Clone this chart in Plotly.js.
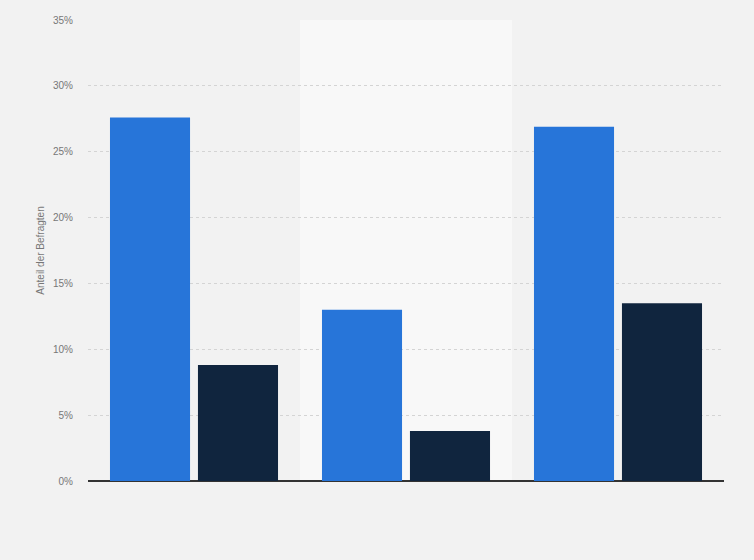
<!DOCTYPE html>
<html>
<head>
<meta charset="utf-8">
<script src="https://cdn.plot.ly/plotly-3.0.1.min.js"></script>
<style>
  html, body { margin: 0; padding: 0; background: #f2f2f2; }
  #chart { width: 754px; height: 560px; }
</style>
</head>
<body>
<div id="chart"></div>
<script>
// three groups, no category labels shown in the picture
var categories = ["A", "B", "C"];
var seriesBlue = [27.6, 13.0, 26.9];
var seriesDark = [8.8, 3.8, 13.5];
var yTicks = [0, 5, 10, 15, 20, 25, 30, 35];
var yTickText = ["0%", "5%", "10%", "15%", "20%", "25%", "30%", "35%"];

var traces = [
  {
    x: categories,
    y: seriesBlue,
    type: "bar",
    name: "Serie 1",
    marker: { color: "#2775d9" },
    hovertemplate: "%{y:.1f}%<extra></extra>"
  },
  {
    x: categories,
    y: seriesDark,
    type: "bar",
    name: "Serie 2",
    marker: { color: "#10253e" },
    hovertemplate: "%{y:.1f}%<extra></extra>"
  }
];

var layout = {
  width: 754,
  height: 560,
  margin: { l: 88, r: 30, t: 20, b: 79 },
  paper_bgcolor: "#f2f2f2",
  plot_bgcolor: "#f2f2f2",
  barmode: "group",
  bargap: 0.17,
  bargroupgap: 0.09,
  showlegend: false,
  font: { family: "Liberation Sans, Arial, sans-serif", color: "#777" },
  xaxis: {
    showticklabels: false,
    showgrid: false,
    zeroline: false,
    showline: false,
    ticks: ""
  },
  yaxis: {
    range: [0, 35],
    tickvals: yTicks,
    ticktext: yTickText,
    tickfont: { size: 10, color: "#777" },
    showgrid: true,
    gridcolor: "#d4d4d4",
    griddash: "dot",
    gridwidth: 1,
    zeroline: true,
    zerolinecolor: "#333",
    zerolinewidth: 1.5,
    ticks: "",
    ticklabelstandoff: 14,
    title: { text: "Anteil der Befragten", font: { size: 10, color: "#777" }, standoff: 6 }
  },
  shapes: [
    {
      type: "rect",
      xref: "x",
      yref: "paper",
      x0: 0.5,
      x1: 1.5,
      y0: 0,
      y1: 1,
      fillcolor: "#f8f8f8",
      line: { width: 0 },
      layer: "below"
    }
  ]
};

Plotly.newPlot("chart", traces, layout, { displayModeBar: false });
</script>
</body>
</html>
